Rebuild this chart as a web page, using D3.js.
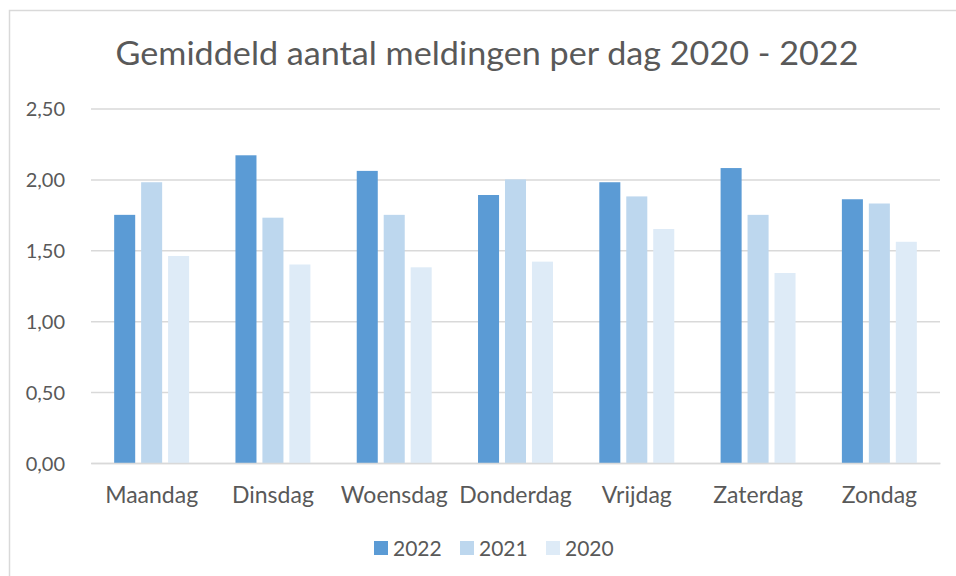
<!DOCTYPE html>
<html>
<head>
<meta charset="utf-8">
<script src="https://cdn.jsdelivr.net/npm/d3@7"></script>
<style>
  body { margin: 0; background: #fff; }
  svg text { font-family: Lato, "Open Sans", sans-serif; fill: #595959; }
</style>
</head>
<body>
<div id="vis"></div>
<script>
// Data
const DAYS = ["Maandag", "Dinsdag", "Woensdag", "Donderdag", "Vrijdag", "Zaterdag", "Zondag"];
const YEARS = ["2022", "2021", "2020"];
const VALUES_2022 = [1.75, 2.17, 2.06, 1.89, 1.98, 2.08, 1.86];
const VALUES_2021 = [1.98, 1.73, 1.75, 2.00, 1.88, 1.75, 1.83];
const VALUES_2020 = [1.46, 1.40, 1.38, 1.42, 1.65, 1.34, 1.56];
const Y_TICKS = [0, 0.5, 1.0, 1.5, 2.0, 2.5];
const TITLE = "Gemiddeld aantal meldingen per dag 2020 - 2022";

const COLORS = {"2022": "#5b9bd5", "2021": "#bdd7ee", "2020": "#deebf7"};

// Frame
const FRAME_HEIGHT = 576;
const FRAME_WIDTH = 956;
const MARGINS = {left: 91, right: 16, top: 108.5, bottom: 113};

const VIS_HEIGHT = FRAME_HEIGHT - MARGINS.top - MARGINS.bottom;
const VIS_WIDTH = FRAME_WIDTH - MARGINS.left - MARGINS.right;

const FRAME = d3.select("#vis")
                .append("svg")
                  .attr("height", FRAME_HEIGHT)
                  .attr("width", FRAME_WIDTH);

// chart border
FRAME.append("rect")
     .attr("x", 9.5)
     .attr("y", 10.5)
     .attr("width", FRAME_WIDTH + 20)
     .attr("height", FRAME_HEIGHT + 20)
     .attr("fill", "none")
     .attr("stroke", "#d9d9d9")
     .attr("stroke-width", 1.5);

// build table from the arrays
const rows = DAYS.map((day, i) => ({
  day: day,
  "2022": VALUES_2022[i],
  "2021": VALUES_2021[i],
  "2020": VALUES_2020[i]
}));

// Scales
const X_SCALE = d3.scaleBand()
                  .domain(DAYS)
                  .range([0, VIS_WIDTH])
                  .paddingInner(0.382)
                  .paddingOuter(0.191);

const X_INNER = d3.scaleBand()
                  .domain(YEARS)
                  .range([0, X_SCALE.bandwidth()])
                  .paddingInner(0.22);

const Y_SCALE = d3.scaleLinear()
                  .domain([0, 2.5])
                  .range([VIS_HEIGHT, 0]);

const PLOT = FRAME.append("g")
                  .attr("transform", "translate(" + MARGINS.left + "," + MARGINS.top + ")");

// gridlines + y labels
const yAxis = PLOT.append("g")
                  .call(d3.axisLeft(Y_SCALE)
                          .tickValues(Y_TICKS)
                          .tickSize(-VIS_WIDTH)
                          .tickPadding(26)
                          .tickFormat(d => d3.format(".2f")(d).replace(".", ",")));
yAxis.select(".domain").remove();
yAxis.selectAll(".tick line")
     .attr("stroke", "#d9d9d9")
     .attr("stroke-width", 1.5);
yAxis.selectAll(".tick text")
     .attr("font-size", "20px")
     .attr("dy", "0.36em");

// bars
const groups = PLOT.selectAll(".group")
                   .data(rows)
                   .enter()
                   .append("g")
                     .attr("transform", d => "translate(" + X_SCALE(d.day) + ",0)");

groups.selectAll("rect")
      .data(d => YEARS.map(y => ({year: y, value: d[y]})))
      .enter()
      .append("rect")
        .attr("x", d => X_INNER(d.year))
        .attr("y", d => Y_SCALE(d.value))
        .attr("width", X_INNER.bandwidth())
        .attr("height", d => VIS_HEIGHT - Y_SCALE(d.value))
        .attr("fill", d => COLORS[d.year]);

// x axis
const xAxis = PLOT.append("g")
                  .attr("transform", "translate(0," + VIS_HEIGHT + ")")
                  .call(d3.axisBottom(X_SCALE).tickSize(0).tickPadding(24));
xAxis.select(".domain")
     .attr("stroke", "#d9d9d9")
     .attr("stroke-width", 1.5);
xAxis.selectAll(".tick text")
     .attr("font-size", "23px");

// title
const title = FRAME.append("text")
                   .attr("x", 487)
                   .attr("y", 65)
                   .attr("text-anchor", "middle")
                   .attr("font-size", "32px")
                   .text(TITLE);
title.attr("textLength", 743).attr("lengthAdjust", "spacingAndGlyphs");

// legend
const LEGEND_X = [374, 460, 546];
const legend = FRAME.selectAll(".legend")
                    .data(YEARS)
                    .enter()
                    .append("g")
                      .attr("transform", (d, i) => "translate(" + LEGEND_X[i] + ",541)");
legend.append("rect")
      .attr("width", 14)
      .attr("height", 14)
      .attr("fill", d => COLORS[d]);
legend.append("text")
      .attr("x", 19)
      .attr("y", 14.5)
      .attr("font-size", "21px")
      .text(d => d);
</script>
</body>
</html>
